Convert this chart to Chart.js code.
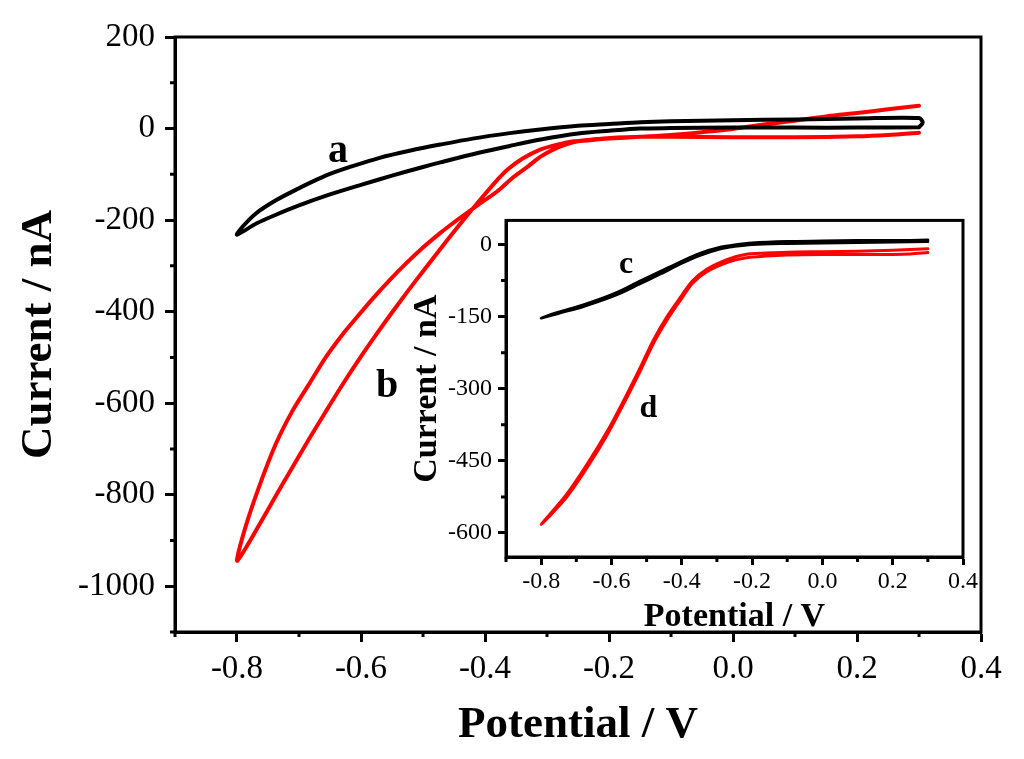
<!DOCTYPE html>
<html><head><meta charset="utf-8">
<script src="https://cdn.jsdelivr.net/npm/chart.js@4.4.0/dist/chart.umd.min.js"></script>
<style>
html,body{margin:0;padding:0;background:#fff;}
#wrap{position:relative;width:1024px;height:759px;overflow:hidden;background:#fff;}
#main{position:absolute;left:0;top:0;}
#inset{position:absolute;left:400px;top:200px;}
</style></head><body>
<div id="wrap"><canvas id="main" width="1024" height="759"></canvas><canvas id="inset" width="580" height="440"></canvas></div>
<script>
// ---------- main chart data ----------
const aPotential = [0.30,0.20,0.10,0.00,-0.10,-0.15,-0.20,-0.25,-0.31,-0.36,-0.41,-0.472,-0.50,-0.55,-0.60,-0.65,-0.70,-0.74,-0.768,-0.80,
  -0.79,-0.768,-0.74,-0.714,-0.68,-0.65,-0.62,-0.57,-0.52,-0.472,-0.42,-0.36,-0.311,-0.25,-0.20,-0.149,-0.10,0.00,0.10,0.20,0.30,0.306,0.30];
const aCurrent = [3,2,2,2,1,0,-5,-11,-24,-38,-53,-74,-84,-103,-123,-144,-168,-190,-207,-232,
  -213,-184,-159,-140,-117,-99,-85,-64,-48,-35,-22,-10,-2,6,10,14,16,18,20,22,23,13,3];

const bPotential = [0.30,0.25,0.20,0.10,0.00,-0.10,-0.149,-0.203,-0.22,-0.257,-0.28,-0.311,-0.34,-0.364,-0.38,-0.40,-0.424,-0.445,-0.472,-0.499,-0.526,-0.55,-0.577,-0.604,-0.631,-0.658,-0.6845,-0.711,-0.738,-0.765,-0.7866,-0.80,
  -0.7866,-0.765,-0.738,-0.711,-0.6845,-0.658,-0.631,-0.604,-0.58,-0.553,-0.526,-0.50,-0.472,-0.45,-0.429,-0.40,-0.38,-0.354,-0.33,-0.311,-0.29,-0.27,-0.25,-0.22,-0.20,-0.15,-0.10,-0.05,0.00,0.044,0.10,0.152,0.20,0.25,0.30];
const bCurrent = [-9,-14,-17,-19,-19,-18,-18,-21,-23,-28,-34,-46,-66,-90,-112,-143,-182,-217,-263,-310,-358,-402,-453,-506,-562,-621,-680,-741,-804,-868,-918,-944,
  -872,-785,-691,-618,-560,-502,-452,-408,-370,-330,-293,-260,-228,-205,-184,-156,-137,-106,-82,-62,-46,-35,-28,-24,-22,-18,-14,-8,-1,8,17,27,34,42,50];

const mainXTicks = [-0.8,-0.6,-0.4,-0.2,0.0,0.2,0.4];
const mainXMinor = [-0.9,-0.7,-0.5,-0.3,-0.1,0.1,0.3];
const mainYTicks = [200,0,-200,-400,-600,-800,-1000];
const mainYMinor = [100,-100,-300,-500,-700,-900,-1100];

// ---------- inset data ----------
const cPotential = [0.30,0.20,0.10,0.00,-0.10,-0.20,-0.25,-0.29,-0.35,-0.40,-0.46,-0.52,-0.59,-0.68,-0.75,-0.80,
  -0.75,-0.68,-0.59,-0.52,-0.46,-0.40,-0.35,-0.29,-0.25,-0.20,-0.10,0.00,0.10,0.20,0.30];
const cCurrent = [6,5,4,3,2,0,-4,-9,-23,-39,-61,-82,-106,-129,-143,-153,
  -141,-126,-102,-77,-56,-35,-19,-6,-1,3,6,7,8,8,9];

const dPotential = [0.30,0.25,0.20,0.10,0.00,-0.10,-0.16,-0.22,-0.27,-0.33,-0.37,-0.40,-0.44,-0.48,-0.52,-0.56,-0.61,-0.67,-0.73,-0.80,
  -0.73,-0.67,-0.61,-0.56,-0.52,-0.48,-0.44,-0.40,-0.37,-0.33,-0.27,-0.22,-0.16,-0.10,0.00,0.10,0.20,0.30];
const dCurrent = [-17,-20,-21,-21,-21,-22,-24,-28,-37,-57,-81,-112,-155,-205,-266,-324,-393,-465,-528,-582,
  -522,-458,-386,-317,-259,-198,-148,-106,-76,-52,-31,-21,-18,-16,-15,-14,-12,-9];

const insetXTicks = [-0.8,-0.6,-0.4,-0.2,0.0,0.2,0.4];
const insetXMinor = [-0.9,-0.7,-0.5,-0.3,-0.1,0.1,0.3];
const insetYTicks = [0,-150,-300,-450,-600];
const insetYMinor = [-75,-225,-375,-525];

const mainLabels = [{t:'a', x:-0.637, y:-50}, {t:'b', x:-0.558, y:-563}];
const insetLabels = [{t:'c', x:-0.558, y:-42}, {t:'d', x:-0.495, y:-341}];

const pts = (xs, ys) => xs.map((v, i) => ({x: v, y: ys[i]}));

Chart.defaults.color = '#000';
Chart.defaults.font.family = '"Liberation Serif", "Times New Roman", serif';

const decor = {
  id: 'decor',
  afterDraw(chart, args, o) {
    const {ctx, chartArea: ca, scales: {x, y}} = chart;
    ctx.save();
    ctx.strokeStyle = '#000';
    ctx.lineWidth = o.frameWidth;
    ctx.strokeRect(ca.left, ca.top, ca.right - ca.left, ca.bottom - ca.top);
    ctx.lineWidth = o.tickWidth;
    ctx.beginPath();
    o.xMinor.forEach(v => { const p = x.getPixelForValue(v); ctx.moveTo(p, ca.bottom); ctx.lineTo(p, ca.bottom + o.minorLen); });
    o.yMinor.forEach(v => { const p = y.getPixelForValue(v); ctx.moveTo(ca.left, p); ctx.lineTo(ca.left - o.minorLen, p); });
    ctx.stroke();
    ctx.fillStyle = '#000';
    ctx.font = 'bold ' + o.labelSize + 'px "Liberation Serif", serif';
    ctx.textAlign = 'center';
    ctx.textBaseline = 'middle';
    o.labels.forEach(l => ctx.fillText(l.t, x.getPixelForValue(l.x), y.getPixelForValue(l.y)));
    ctx.restore();
  }
};

function makeChart(el, cfg) {
  return new Chart(el, {
    type: 'scatter',
    data: { datasets: cfg.datasets.map(d => ({
      data: d.data, showLine: true, borderColor: d.color, backgroundColor: d.color,
      borderWidth: cfg.lineWidth, pointRadius: 0, tension: 0.3, fill: false,
      borderJoinStyle: 'round', borderCapStyle: 'round'
    })) },
    options: {
      responsive: false, animation: false, events: [],
      layout: { padding: cfg.padding },
      plugins: { legend: {display: false}, tooltip: {enabled: false},
        decor: { frameWidth: cfg.frameWidth, tickWidth: cfg.frameWidth, minorLen: cfg.minorLen,
                 xMinor: cfg.xMinor, yMinor: cfg.yMinor, labels: cfg.labels, labelSize: cfg.labelSize } },
      scales: {
        x: {
          type: 'linear', min: cfg.xMin, max: cfg.xMax,
          afterBuildTicks: s => { s.ticks = cfg.xTicks.map(v => ({value: v})); },
          afterFit: s => { s.height = cfg.xHeight; },
          grid: { display: true, drawOnChartArea: false, drawTicks: true, tickLength: cfg.majorLen, tickWidth: cfg.frameWidth, tickColor: '#000' },
          border: { display: true, color: '#000', width: cfg.frameWidth },
          ticks: { padding: cfg.xPad, font: {size: cfg.tickSize}, maxRotation: 0, autoSkip: false, callback: v => v.toFixed(1) },
          title: { display: true, text: 'Potential / V', font: {size: cfg.titleSize, weight: 'bold', lineHeight: 1}, padding: {top: 0, bottom: cfg.xTitlePad} }
        },
        y: {
          type: 'linear', min: cfg.yMin, max: cfg.yMax,
          afterBuildTicks: s => { s.ticks = cfg.yTicks.map(v => ({value: v})); },
          afterFit: s => { s.width = cfg.yWidth; },
          grid: { display: true, drawOnChartArea: false, drawTicks: true, tickLength: cfg.majorLen, tickWidth: cfg.frameWidth, tickColor: '#000' },
          border: { display: true, color: '#000', width: cfg.frameWidth },
          ticks: { padding: cfg.yPad, font: {size: cfg.tickSize}, autoSkip: false, callback: v => String(v) },
          title: { display: true, text: 'Current / nA', font: {size: cfg.titleSize, weight: 'bold', lineHeight: 1}, padding: {top: cfg.yTitlePad, bottom: 0} }
        }
      }
    },
    plugins: [decor]
  });
}

makeChart(document.getElementById('main'), {
  datasets: [{data: pts(aPotential, aCurrent), color: '#000000'}, {data: pts(bPotential, bCurrent), color: '#ff0000'}],
  lineWidth: 4, frameWidth: 3, majorLen: 10, minorLen: 5,
  padding: {top: 37, right: 43, left: 0, bottom: 0},
  xMin: -0.9, xMax: 0.4, yMin: -1100, yMax: 200,
  xTicks: mainXTicks, yTicks: mainYTicks, xMinor: mainXMinor, yMinor: mainYMinor,
  xHeight: 127, yWidth: 175, xPad: 8, yPad: 10, tickSize: 33, titleSize: 45,
  xTitlePad: 11, yTitlePad: 17, labels: mainLabels, labelSize: 40
});

makeChart(document.getElementById('inset'), {
  datasets: [{data: pts(cPotential, cCurrent), color: '#000000'}, {data: pts(dPotential, dCurrent), color: '#ff0000'}],
  lineWidth: 3, frameWidth: 3, majorLen: 8, minorLen: 5,
  padding: {top: 14, right: 16, left: 0, bottom: 0},
  xMin: -0.9, xMax: 0.4, yMin: -650, yMax: 50,
  xTicks: insetXTicks, yTicks: insetYTicks, xMinor: insetXMinor, yMinor: insetYMinor,
  xHeight: 83, yWidth: 106, xPad: 2, yPad: 6, tickSize: 24, titleSize: 34,
  xTitlePad: 6, yTitlePad: 10, labels: insetLabels, labelSize: 32
});
</script>
</body></html>
